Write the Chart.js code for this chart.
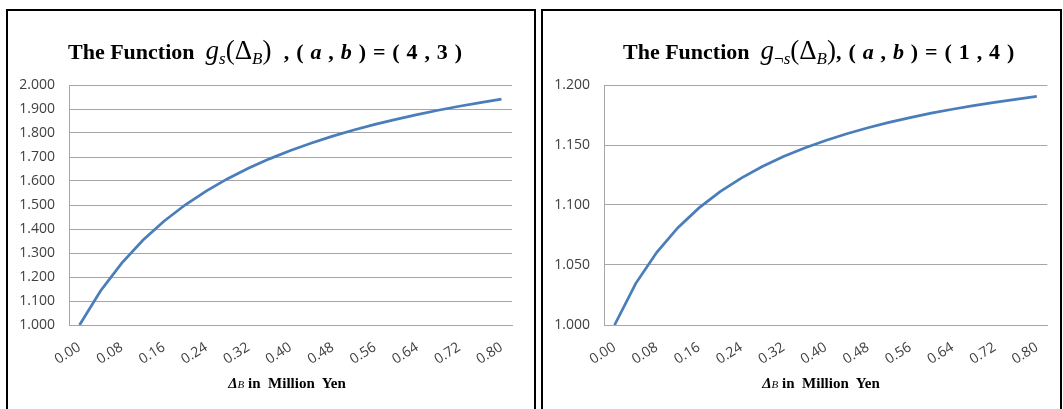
<!DOCTYPE html>
<html>
<head>
<meta charset="utf-8">
<script src="https://cdn.jsdelivr.net/npm/chart.js@4.4.1/dist/chart.umd.min.js"></script>
<style>
  html, body { margin:0; padding:0; background:#fff; width:1063px; height:409px; overflow:hidden; position:relative; }
  .box { position:absolute; border:2px solid #000; box-sizing:border-box; }
  canvas { position:absolute; }
  .title { position:absolute; font-family:"Liberation Serif","Times New Roman",serif; font-weight:bold; font-size:22px; line-height:1; color:#000; white-space:pre; }
  .title .m { font-weight:normal; font-size:27px; }
  .title .m i { font-style:italic; }
  .title sub { font-size:17px; vertical-align:-5px; line-height:0; }
  .title .t { letter-spacing:0.7px; }
  .xt { position:absolute; width:240px; text-align:center; font-family:"Liberation Serif","Times New Roman",serif; font-weight:bold; font-size:15px; line-height:1; color:#000; white-space:pre; }
  .xt .sb { font-size:11px; font-style:italic; font-weight:normal; }
</style>
</head>
<body>
<div class="box" style="left:6px;top:9px;width:530px;height:420px;"></div>
<div class="box" style="left:541px;top:9px;width:521px;height:420px;"></div>

<canvas id="c1" width="526" height="398" style="left:8px;top:11px;"></canvas>
<canvas id="c2" width="517" height="398" style="left:543px;top:11px;"></canvas>

<div class="title" style="left:68px;top:37px;">The Function  <span class="m"><i>g</i><sub><i>s</i></sub>(Δ<sub><i>B</i></sub>)</span><span class="t">  , ( <i>a</i> , <i>b</i> ) = ( 4 , 3 )</span></div>
<div class="title" style="left:623px;top:37px;">The Function  <span class="m"><i>g</i><sub>¬<i>s</i></sub>(Δ<sub><i>B</i></sub>)</span><span class="t">, ( <i>a</i> , <i>b</i> ) = ( 1 , 4 )</span></div>

<div class="xt" style="left:167px;top:376px;"><i>Δ</i><span class="sb">B</span> in  Million  Yen</div>
<div class="xt" style="left:701px;top:376px;"><i>Δ</i><span class="sb">B</span> in  Million  Yen</div>

<script>
const categories = ["0.00","0.04","0.08","0.12","0.16","0.20","0.24","0.28","0.32","0.36","0.40",
                    "0.44","0.48","0.52","0.56","0.60","0.64","0.68","0.72","0.76","0.80"];
const gsValues  = [1.0000,1.1429,1.2581,1.3529,1.4324,1.5000,1.5581,1.6087,1.6531,1.6923,1.7273,
                   1.7586,1.7869,1.8125,1.8358,1.8571,1.8767,1.8947,1.9114,1.9268,1.9412];
const gnsValues = [1.0000,1.0345,1.0606,1.0811,1.0976,1.1111,1.1224,1.1321,1.1404,1.1475,1.1538,
                   1.1594,1.1644,1.1688,1.1728,1.1765,1.1798,1.1828,1.1856,1.1881,1.1905];
const leftYTicks  = { min: 1.0, max: 2.0, step: 0.1 };
const rightYTicks = { min: 1.0, max: 1.2, step: 0.05 };

const gridColor = '#a6a6a6';
const tickFont = { family: '"Open Sans","Liberation Sans",sans-serif', size: 14 };
const tickColor = '#404040';

function makeChart(id, values, yt, padRight) {
  return new Chart(document.getElementById(id), {
    type: 'line',
    data: {
      labels: categories,
      datasets: [{
        data: values,
        borderColor: '#4a7ebb',
        borderWidth: 2.75,
        pointRadius: 0,
        tension: 0,
        fill: false
      }]
    },
    options: {
      responsive: false,
      animation: false,
      devicePixelRatio: 1,
      layout: { padding: { left: 0, right: padRight, top: 74, bottom: 0 } },
      plugins: { legend: { display: false }, tooltip: { enabled: false }, title: { display: false } },
      scales: {
        x: {
          type: 'category',
          offset: true,
          grid: { display: false, drawTicks: false },
          border: { display: true, color: gridColor, width: 1 },
          ticks: {
            autoSkip: false,
            maxRotation: 32, minRotation: 32,
            padding: 14,
            color: tickColor,
            font: tickFont,
            callback: function(v, i) { return i % 2 === 0 ? categories[i] : ''; }
          },
          afterFit: function(s) { s.height = 84; }
        },
        y: {
          min: yt.min, max: yt.max,
          grid: { color: gridColor, lineWidth: 1, drawTicks: false },
          border: { display: true, color: gridColor, width: 1 },
          ticks: {
            stepSize: yt.step,
            padding: 14,
            color: tickColor,
            font: tickFont,
            callback: function(v) { return Number(v).toFixed(3); }
          },
          afterFit: function(s) { s.width = 61; }
        }
      }
    }
  });
}

makeChart('c1', gsValues, leftYTicks, 22);
makeChart('c2', gnsValues, rightYTicks, 12);
</script>
</body>
</html>
